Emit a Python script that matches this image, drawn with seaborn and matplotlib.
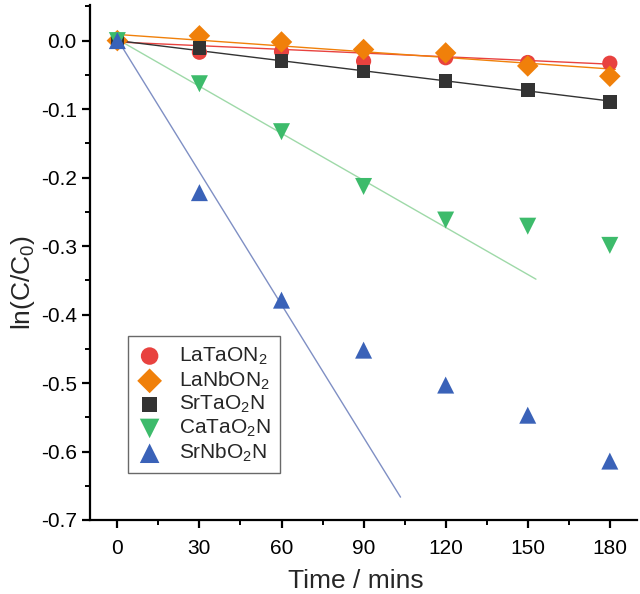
import numpy as np
import pandas as pd
import matplotlib
matplotlib.use('Agg')
import matplotlib.pyplot as plt
import seaborn as sns

sns.set_style('ticks')
plt.rcParams['font.family'] = ['Liberation Sans', 'DejaVu Sans']
plt.rcParams['mathtext.fontset'] = 'custom'
plt.rcParams['mathtext.rm'] = 'Liberation Sans'
plt.rcParams['mathtext.it'] = 'Liberation Sans'
plt.rcParams['axes.unicode_minus'] = False

time = [0, 30, 60, 90, 120, 150, 180]
names = ['LaTaON$_2$', 'LaNbON$_2$', 'SrTaO$_2$N', 'CaTaO$_2$N', 'SrNbO$_2$N']
la_ta = [0.0, -0.017, -0.016, -0.030, -0.025, -0.032, -0.033]
la_nb = [0.0, 0.007, -0.002, -0.013, -0.018, -0.037, -0.052]
sr_ta = [0.0, -0.011, -0.030, -0.045, -0.059, -0.072, -0.090]
ca_ta = [0.0, -0.063, -0.133, -0.213, -0.262, -0.271, -0.299]
sr_nb = [0.0, -0.222, -0.379, -0.452, -0.503, -0.547, -0.614]

# linear fits as drawn in the figure
fit_intercept = [-0.002, 0.009, 0.000, 0.002, 0.002]
fit_slope = [-0.00018, -0.00028, -0.00049, -0.00229, -0.00646]
fit_end = [182, 182, 182, 153, 103.5]

colors = ['#E8423F', '#F0800A', '#333333', '#3DBB6B', '#3A62B8']
line_colors = ['#E8423F', '#F0800A', '#333333', '#9ED9A8', '#7F8FC4']
markers = ['o', 'D', 's', 'v', '^']
sizes = [120, 120, 95, 150, 150]

df = pd.DataFrame({
    'time': time * 5,
    'lnc': la_ta + la_nb + sr_ta + ca_ta + sr_nb,
    'sample': np.repeat(names, len(time)),
})

fig = plt.figure(figsize=(6.4, 5.94), dpi=100)
ax = fig.add_axes([0.1406, 0.1246, 0.855, 0.867])

for i, n in enumerate(names):
    xs = np.array([0, fit_end[i]])
    ax.plot(xs, fit_intercept[i] + fit_slope[i] * xs, color=line_colors[i], lw=1.0, zorder=1)

for i, n in enumerate(names):
    sub = df[df['sample'] == n]
    sns.scatterplot(data=sub, x='time', y='lnc', ax=ax, color=colors[i], marker=markers[i],
                    s=sizes[i], edgecolor='none', label=n, zorder=3)

ax.set_xlim(-10, 190)
ax.set_ylim(-0.7, 0.052)
ax.set_xticks([0, 30, 60, 90, 120, 150, 180])
ax.set_xticks([15, 45, 75, 105, 135, 165], minor=True)
ax.set_yticks([0.0, -0.1, -0.2, -0.3, -0.4, -0.5, -0.6, -0.7])
ax.set_yticks([0.05, -0.05, -0.15, -0.25, -0.35, -0.45, -0.55, -0.65], minor=True)
ax.set_yticklabels(['0.0', '-0.1', '-0.2', '-0.3', '-0.4', '-0.5', '-0.6', '-0.7'])

sns.despine(ax=ax)
for s in ['left', 'bottom']:
    ax.spines[s].set_linewidth(1.6)
    ax.spines[s].set_color('black')
ax.tick_params(which='major', direction='out', length=6, width=1.6, labelsize=15, colors='black')
ax.tick_params(which='minor', direction='out', length=3.5, width=1.4, colors='black')
ax.tick_params(axis='x', pad=8)

ax.set_xlabel('Time / mins', fontsize=19)
ax.set_ylabel('ln(C/C$_0$)', fontsize=19)
ax.xaxis.set_label_coords(0.485, -0.095)
ax.yaxis.set_label_coords(-0.097, 0.462)

leg = ax.legend(loc='upper left', bbox_to_anchor=(0.069, 0.357), borderaxespad=0,
                fontsize=15, frameon=True, fancybox=False, edgecolor='#444444',
                labelspacing=0.12, handletextpad=0.8, borderpad=0.45, handlelength=1.2,
                markerscale=1.15)
leg.get_frame().set_linewidth(1.0)

plt.savefig('out.png', dpi=100)
